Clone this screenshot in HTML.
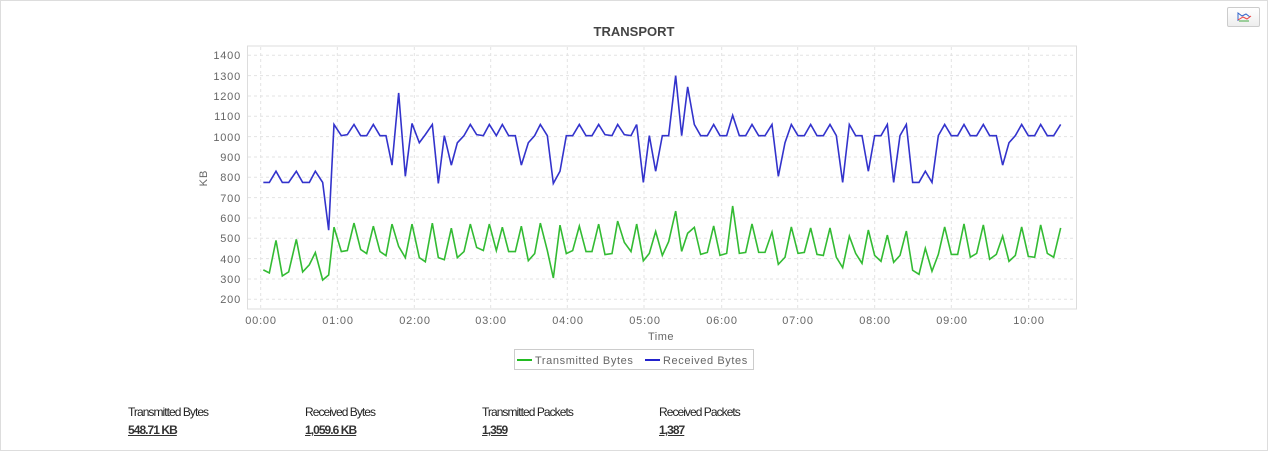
<!DOCTYPE html>
<html><head><meta charset="utf-8"><style>
body{margin:0;width:1268px;height:451px;background:#fff;position:relative;overflow:hidden;font-family:"Liberation Sans",sans-serif}
.frame{position:absolute;left:0;top:0;width:1266px;height:449px;border:1px solid #ddd}
.st{position:absolute;font-size:12px;color:#222;letter-spacing:-0.95px}
.st b{display:block;font-weight:bold;text-decoration:underline;margin-top:4px;color:#333}
</style></head><body>
<div class="frame"></div>
<div style="position:absolute;left:1227px;top:7px;width:31px;height:18px;border:1px solid #ccc;border-radius:2px;background:linear-gradient(#fff,#eee)">
<svg width="31" height="18"><path d="M10 13 L10 5 L14 8 L18 6 L22 9" stroke="#36c" fill="none"/><path d="M10 12 L15 9 L19 11 L23 8" stroke="#e44" fill="none"/><path d="M11 13 L21 13" stroke="#4a4" /></svg></div>
<svg width="1268" height="451" style="position:absolute;left:0;top:0">
<text x="634" y="36" text-anchor="middle" font-size="13" font-weight="bold" fill="#444">TRANSPORT</text>
<rect x="247.5" y="46" width="829" height="263" fill="none" stroke="#ddd"/>
<g stroke="#e3e3e3" stroke-dasharray="3,3">
<line x1="248" x2="1076" y1="55.3" y2="55.3"/><line x1="248" x2="1076" y1="75.6" y2="75.6"/><line x1="248" x2="1076" y1="96" y2="96"/><line x1="248" x2="1076" y1="116.3" y2="116.3"/><line x1="248" x2="1076" y1="136.6" y2="136.6"/><line x1="248" x2="1076" y1="157" y2="157"/><line x1="248" x2="1076" y1="177.3" y2="177.3"/><line x1="248" x2="1076" y1="197.6" y2="197.6"/><line x1="248" x2="1076" y1="218" y2="218"/><line x1="248" x2="1076" y1="238.3" y2="238.3"/><line x1="248" x2="1076" y1="258.6" y2="258.6"/><line x1="248" x2="1076" y1="279" y2="279"/><line x1="248" x2="1076" y1="299.3" y2="299.3"/>
<line x1="260.7" x2="260.7" y1="47" y2="309"/><line x1="337.3" x2="337.3" y1="47" y2="309"/><line x1="414.3" x2="414.3" y1="47" y2="309"/><line x1="490.7" x2="490.7" y1="47" y2="309"/><line x1="567.3" x2="567.3" y1="47" y2="309"/><line x1="644" x2="644" y1="47" y2="309"/><line x1="721.7" x2="721.7" y1="47" y2="309"/><line x1="797.7" x2="797.7" y1="47" y2="309"/><line x1="874.7" x2="874.7" y1="47" y2="309"/><line x1="951.3" x2="951.3" y1="47" y2="309"/><line x1="1028.7" x2="1028.7" y1="47" y2="309"/>
</g>
<g font-size="11" fill="#666" text-anchor="end" letter-spacing="0.8">
<text x="241" y="59">1400</text><text x="241" y="80">1300</text><text x="241" y="100">1200</text><text x="241" y="120">1100</text><text x="241" y="141">1000</text><text x="241" y="161">900</text><text x="241" y="181">800</text><text x="241" y="202">700</text><text x="241" y="222">600</text><text x="241" y="242">500</text><text x="241" y="263">400</text><text x="241" y="283">300</text><text x="241" y="303">200</text>
</g>
<g font-size="11" fill="#666" text-anchor="middle" letter-spacing="0.8">
<text x="261" y="324">00:00</text><text x="338" y="324">01:00</text><text x="415" y="324">02:00</text><text x="491" y="324">03:00</text><text x="568" y="324">04:00</text><text x="645" y="324">05:00</text><text x="722" y="324">06:00</text><text x="798" y="324">07:00</text><text x="875" y="324">08:00</text><text x="952" y="324">09:00</text><text x="1029" y="324">10:00</text>
</g>
<text x="661" y="340" font-size="11" fill="#666" text-anchor="middle" letter-spacing="0.5">Time</text>
<text transform="translate(207,178) rotate(-90)" font-size="11" fill="#666" text-anchor="middle" letter-spacing="1">KB</text>
<g fill="none" stroke-width="1.6" stroke-linejoin="miter">
<g transform="matrix(0.33333 0 0 -0.20333 200 340)">
<polyline vector-effect="non-scaling-stroke" stroke="#3333cc" points="190,775 208,775 228,830 247,775 266,775 289,830 308,775 328,775 346,830 368,775 386,540 402,1060 424,1005 442,1010 462,1060 482,1005 500,1005 520,1060 540,1005 558,1005 576,860 596,1215 616,805 636,1065 658,970 676,1010 697,1060 715,770 733,1005 754,860 772,970 792,1005 811,1060 830,1010 850,1005 868,1060 889,1005 907,1060 926,1005 946,1005 964,860 985,970 1004,1005 1021,1060 1042,1005 1060,770 1080,830 1099,1005 1118,1005 1138,1060 1158,1005 1176,1005 1196,1060 1215,1010 1236,1005 1253,1060 1273,1010 1293,1005 1310,1060"/>
<polyline vector-effect="non-scaling-stroke" stroke="#33bb33" points="190,345 208,330 228,490 247,315 266,335 289,495 308,335 328,370 346,430 368,295 386,320 402,555 424,435 442,440 462,575 482,445 500,425 520,560 540,435 558,415 576,570 596,460 616,405 636,570 658,405 676,385 697,575 715,405 733,395 754,550 772,405 792,435 811,570 830,455 850,440 868,570 889,440 907,555 926,435 946,435 964,560 985,390 1004,425 1021,575 1042,440 1060,305 1080,565 1099,425 1118,440 1138,560 1158,435 1176,435 1196,570 1215,420 1236,425 1253,585 1273,480 1293,435 1310,570"/>
</g>
<g transform="matrix(0.33333 0 0 -0.20333 630 340)">
<polyline vector-effect="non-scaling-stroke" stroke="#3333cc" points="20,1060 40,775 58,1005 77,830 97,1005 116,1005 137,1300 155,1005 173,1245 193,1060 212,1005 232,1005 251,1060 270,1005 290,1005 308,1105 328,1005 347,1005 366,1060 386,1005 405,1005 426,1060 445,805 465,970 484,1060 504,1005 523,1005 542,1060 561,1005 580,1005 600,1060 619,1005 638,775 658,1060 677,1005 696,1005 715,830 734,1005 753,1005 772,1060 791,775 810,1005 829,1060 848,775 867,775 886,830 906,775 925,1005 944,1060 964,1005 983,1005 1002,1060 1021,1005 1040,1005 1060,1060 1079,1005 1099,1005 1118,860 1137,970 1156,1005 1175,1060 1195,1005 1214,1005 1232,1060 1252,1005 1271,1005 1292,1060"/>
<polyline vector-effect="non-scaling-stroke" stroke="#33bb33" points="20,571 40,389 58,426 77,534 97,416 116,484 137,634 155,436 173,525 193,554 212,421 232,431 251,561 270,416 290,426 308,659 328,426 347,431 366,571 386,431 405,431 426,531 445,372 465,407 484,556 504,426 523,431 542,551 561,421 580,416 600,551 619,407 638,356 658,511 677,426 696,377 715,541 734,416 753,387 772,516 791,382 810,416 829,536 848,343 867,323 886,451 906,338 925,421 944,556 964,421 983,421 1002,571 1021,407 1040,426 1060,566 1079,397 1099,421 1118,511 1137,387 1156,416 1175,556 1195,411 1214,407 1232,566 1252,426 1271,407 1292,551"/>
</g>
</g>
<rect x="514.5" y="349.5" width="239" height="20" fill="#fff" stroke="#ccc"/>
<line x1="517" x2="532" y1="360" y2="360" stroke="#22bb22" stroke-width="2"/>
<text x="535" y="364" font-size="11" fill="#666" letter-spacing="0.6">Transmitted Bytes</text>
<line x1="645" x2="660" y1="360" y2="360" stroke="#2222cc" stroke-width="2"/>
<text x="663" y="364" font-size="11" fill="#666" letter-spacing="0.6">Received Bytes</text>
</svg>
<div class="st" style="left:128px;top:405px">Transmitted Bytes<b>548.71 KB</b></div>
<div class="st" style="left:305px;top:405px">Received Bytes<b>1,059.6 KB</b></div>
<div class="st" style="left:482px;top:405px">Transmitted Packets<b>1,359</b></div>
<div class="st" style="left:659px;top:405px">Received Packets<b>1,387</b></div>
</body></html>
